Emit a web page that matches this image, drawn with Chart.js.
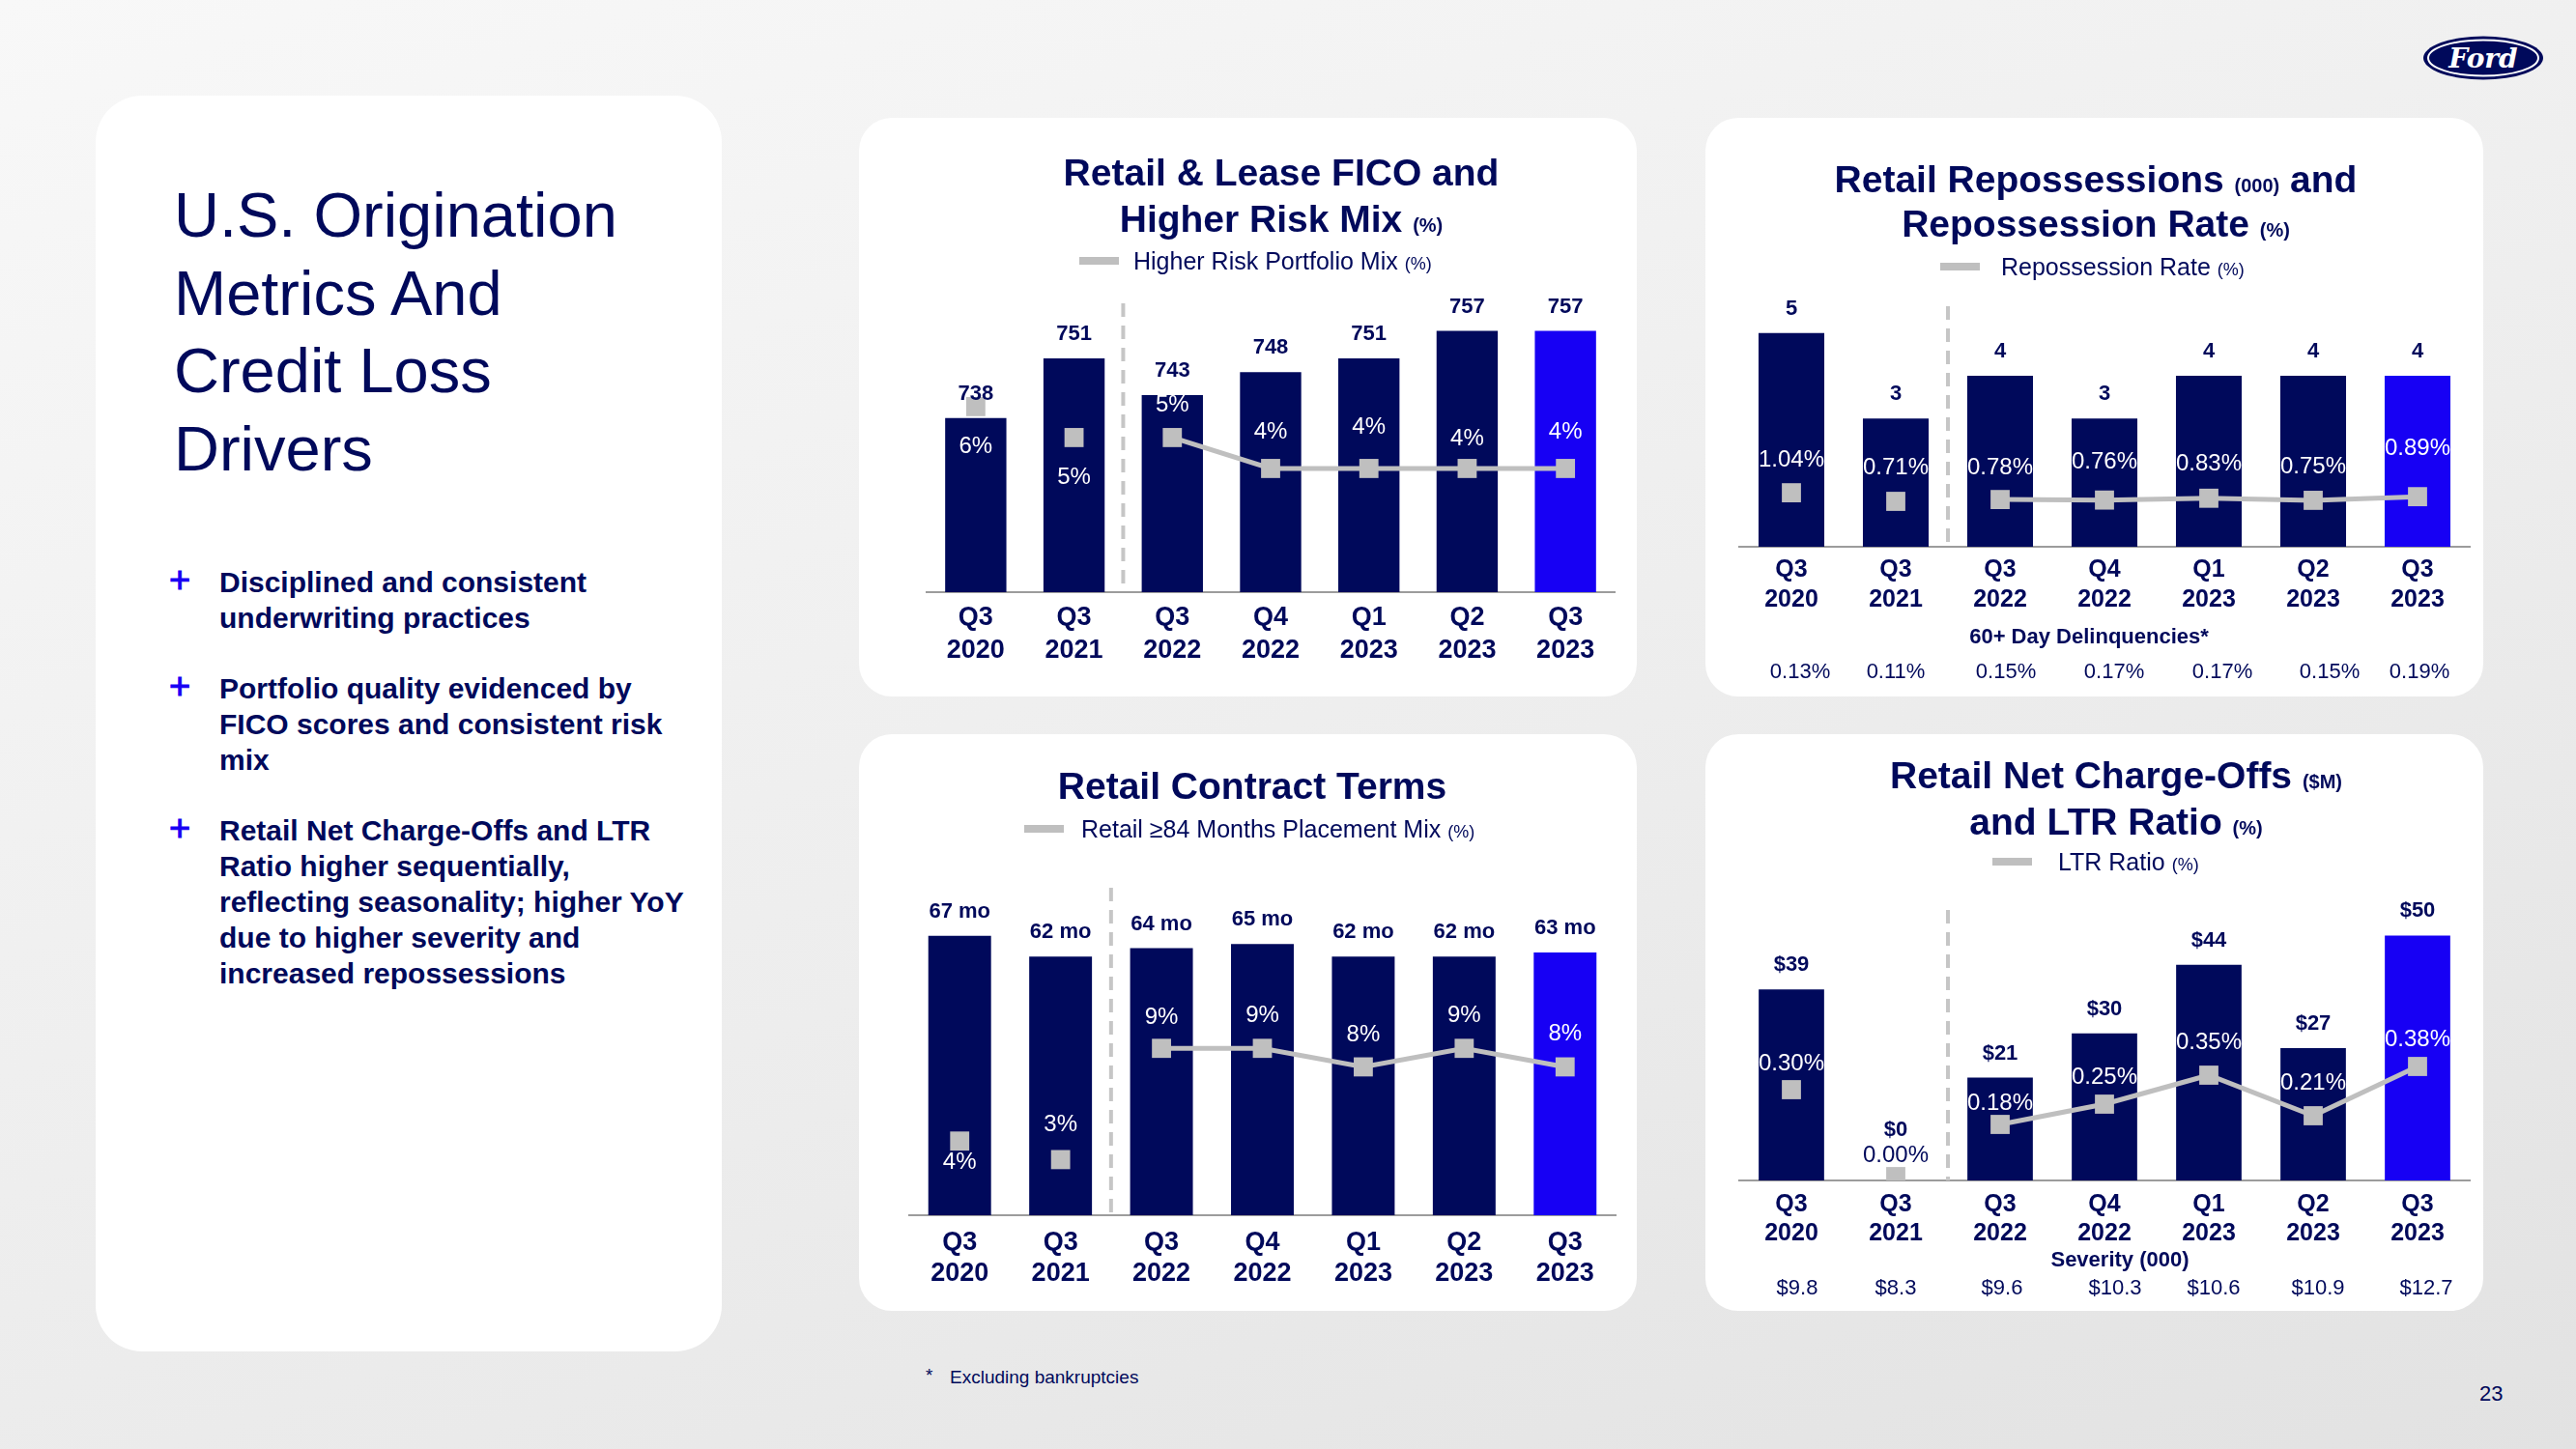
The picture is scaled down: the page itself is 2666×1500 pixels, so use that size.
<!DOCTYPE html>
<html>
<head>
<meta charset="utf-8">
<script src="https://cdn.jsdelivr.net/npm/chart.js@4.4.0/dist/chart.umd.min.js"></script>
<style>
  html, body { margin: 0; padding: 0; }
  body {
    width: 2666px; height: 1500px; position: relative; overflow: hidden;
    background: linear-gradient(160deg, #f8f8f8 0%, #ededed 55%, #e2e2e2 100%);
    font-family: 'Liberation Sans', Arial, sans-serif; color: #00095B;
  }
  .abs { position: absolute; white-space: nowrap; }
  .panel { position: absolute; left: 99px; top: 99px; width: 648px; height: 1300px; background: #fff; border-radius: 48px; }
  .card { position: absolute; background: #fff; border-radius: 34px; width: 805px; }
  .card canvas { position: absolute; left: 0; top: 0; }
  .ttl { position: absolute; transform: translateX(-50%); text-align: center; font-weight: bold; font-size: 39px; white-space: nowrap; }
  .ttl small { font-size: 20px; line-height: 0; }
  .leg { position: absolute; height: 30px; font-size: 25px; line-height: 30px; white-space: nowrap; }
  .leg i { position: absolute; left: 0; top: 11px; width: 41px; height: 8px; background: #bfbfbf; }
  .leg span { position: absolute; top: 0; }
  .leg small { font-size: 18px; line-height: 0; }
  .cap { position: absolute; transform: translate(-50%, -50%); font-weight: bold; font-size: 22px; white-space: nowrap; }
  .bul { position: absolute; left: 227px; font-weight: bold; font-size: 30px; line-height: 37px; white-space: nowrap; }
  .plus { position: absolute; left: 175px; font-size: 38px; line-height: 37px; color: #1700F4; -webkit-text-stroke: 1px #1700F4; }
</style>
</head>
<body>

<div class="panel"></div>
<div class="abs" style="left:180px; top:183px; font-size:65px; line-height:80.5px;">U.S. Origination<br>Metrics And<br>Credit Loss<br>Drivers</div>

<div class="plus" style="top:582px;">+</div>
<div class="bul" style="top:584px;">Disciplined and consistent<br>underwriting practices</div>
<div class="plus" style="top:692px;">+</div>
<div class="bul" style="top:694px;">Portfolio quality evidenced by<br>FICO scores and consistent risk<br>mix</div>
<div class="plus" style="top:839px;">+</div>
<div class="bul" style="top:841px;">Retail Net Charge-Offs and LTR<br>Ratio higher sequentially,<br>reflecting seasonality; higher YoY<br>due to higher severity and<br>increased repossessions</div>

<div class="card" style="left:889px; top:122px; height:599px;">
  <canvas id="ficoChart" width="805" height="599"></canvas>
  <div class="ttl" style="left:437px; top:33px; line-height:48px;">Retail &amp; Lease FICO and<br>Higher Risk Mix <small>(%)</small></div>
  <div class="leg" style="left:228px; top:133px;"><i></i><span style="left:56px;">Higher Risk Portfolio Mix <small>(%)</small></span></div>
</div>

<div class="card" style="left:1765px; top:122px; height:599px;">
  <canvas id="repoChart" width="805" height="599"></canvas>
  <div class="ttl" style="left:404px; top:41px; line-height:46px;">Retail Repossessions <small>(000)</small> and<br>Repossession Rate <small>(%)</small></div>
  <div class="leg" style="left:243px; top:139px;"><i></i><span style="left:63px;">Repossession Rate <small>(%)</small></span></div>
  <div class="cap" style="left:397px; top:537px;">60+ Day Delinquencies*</div>
</div>

<div class="card" style="left:889px; top:760px; height:597px;">
  <canvas id="termChart" width="805" height="597"></canvas>
  <div class="ttl" style="left:407px; top:30px; line-height:48px;">Retail Contract Terms</div>
  <div class="leg" style="left:171px; top:83px;"><i></i><span style="left:59px;">Retail ≥84 Months Placement Mix <small>(%)</small></span></div>
</div>

<div class="card" style="left:1765px; top:760px; height:597px;">
  <canvas id="ncoChart" width="805" height="597"></canvas>
  <div class="ttl" style="left:425px; top:19px; line-height:48px;">Retail Net Charge-Offs <small>($M)</small><br>and LTR Ratio <small>(%)</small></div>
  <div class="leg" style="left:297px; top:117px;"><i></i><span style="left:68px;">LTR Ratio <small>(%)</small></span></div>
  <div class="cap" style="left:429px; top:544px;">Severity (000)</div>
</div>

<div class="abs" style="left:958px; top:1413px; font-size:19px;">*</div>
<div class="abs" style="left:983px; top:1415px; font-size:19px;">Excluding bankruptcies</div>
<div class="abs" style="left:2566px; top:1430px; font-size:22px;">23</div>

<svg class="abs" style="left:2506px; top:36px;" width="128" height="48">
  <ellipse cx="64" cy="24" rx="62" ry="22.5" fill="#00095B"/>
  <ellipse cx="64" cy="24" rx="57" ry="18.5" fill="none" stroke="#ffffff" stroke-width="2"/>
  <text x="64" y="34" text-anchor="middle" font-family="DejaVu Serif" font-style="italic" font-weight="bold" font-size="28" fill="#ffffff">Ford</text>
</svg>

<script>
const quarters = [['Q3', '2020'], ['Q3', '2021'], ['Q3', '2022'], ['Q4', '2022'], ['Q1', '2023'], ['Q2', '2023'], ['Q3', '2023']];

const ficoScores = [738, 751, 743, 748, 751, 757, 757];
const higherRiskMix = [6, 5, 5, 4, 4, 4, 4];

const repossessions = [5, 3, 4, 3, 4, 4, 4];
const repoRate = [1.04, 0.71, 0.78, 0.76, 0.83, 0.75, 0.89];
const delinquencies = [0.13, 0.11, 0.15, 0.17, 0.17, 0.15, 0.19];

const contractTerms = [67, 62, 64, 65, 62, 62, 63];
const longTermMix = [4, 3, 9, 9, 8, 9, 8];

const netChargeOffs = [39, 0, 21, 30, 44, 27, 50];
const ltrRatio = [0.30, 0.00, 0.18, 0.25, 0.35, 0.21, 0.38];
const severity = [9.8, 8.3, 9.6, 10.3, 10.6, 10.9, 12.7];

const NAVY = '#00095B';
const BRIGHT = '#1700F4';
const GRAY = '#bfbfbf';
const FONT = "'Liberation Sans', Arial, sans-serif";

Chart.defaults.font.family = FONT;

// labels above bars, on the rate line, the optional bottom row and the dashed split
// lift: how far each rate label sits above its marker (negative = below)
function labelPlugin(o) {
    return {
        id: 'labels',
        beforeDatasetsDraw(chart) {
            const { ctx, chartArea, scales } = chart;
            const x = (scales.x.getPixelForValue(1) + scales.x.getPixelForValue(2)) / 2;
            ctx.save();
            ctx.strokeStyle = '#c6c6c6';
            ctx.lineWidth = 4;
            ctx.setLineDash([14, 9]);
            ctx.beginPath();
            ctx.moveTo(x, chartArea.top);
            ctx.lineTo(x, chartArea.bottom);
            ctx.stroke();
            ctx.restore();
        },
        afterDatasetsDraw(chart) {
            const ctx = chart.ctx;
            const bars = chart.getDatasetMeta(0).data;
            const pts = chart.getDatasetMeta(1).data;
            const barVals = chart.data.datasets[0].data;
            const lineVals = chart.data.datasets[1].data;
            ctx.save();
            ctx.textAlign = 'center';
            ctx.textBaseline = 'middle';
            bars.forEach((bar, i) => {
                const p = pts[i];
                const ly = p.y - o.lift[i];
                const inBar = ly > bar.y;
                ctx.font = '24px ' + FONT;
                ctx.fillStyle = inBar ? '#ffffff' : NAVY;
                ctx.fillText(o.lineFmt(lineVals[i]), p.x, ly);

                let by = bar.y - 25;
                if (!inBar) by = Math.min(by, ly - 26);
                ctx.font = 'bold 22px ' + FONT;
                ctx.fillStyle = NAVY;
                ctx.fillText(o.barFmt(barVals[i]), bar.x, by);
            });
            if (o.row) {
                ctx.font = '22px ' + FONT;
                ctx.fillStyle = NAVY;
                bars.forEach((bar, i) => ctx.fillText(o.rowFmt(o.row[i]), bar.x + (o.rowShift ? o.rowShift[i] : 0), o.rowY));
            }
            ctx.restore();
        }
    };
}

function makeChart(id, c) {
    const ctx = document.getElementById(id).getContext('2d');
    return new Chart(ctx, {
        type: 'bar',
        data: {
            labels: quarters,
            datasets: [{
                type: 'bar',
                data: c.bars,
                backgroundColor: c.bars.map((v, i) => i === c.bars.length - 1 ? BRIGHT : NAVY),
                barPercentage: c.barPct,
                categoryPercentage: 1,
                yAxisID: 'y',
                order: 2
            }, {
                type: 'line',
                data: c.line,
                yAxisID: 'y2',
                borderColor: GRAY,
                borderWidth: 5,
                pointStyle: 'rect',
                pointRadius: 14,
                pointBackgroundColor: GRAY,
                pointBorderWidth: 0,
                segment: {
                    borderColor: s => s.p0DataIndex < 2 ? 'rgba(0,0,0,0)' : GRAY
                },
                order: 1
            }]
        },
        options: {
            responsive: false,
            animation: false,
            devicePixelRatio: 1,
            layout: { padding: c.pad },
            plugins: { legend: { display: false }, tooltip: { enabled: false } },
            scales: {
                x: {
                    grid: { display: false, drawTicks: false },
                    border: { display: true, color: '#9c9c9c', width: 2 },
                    ticks: {
                        color: NAVY,
                        font: { size: c.tickSize, weight: 'bold', lineHeight: c.tickLH },
                        padding: c.tickPad,
                        maxRotation: 0,
                        autoSkip: false
                    },
                    afterFit: s => { s.height = 80; }
                },
                y: { display: false, min: c.yMin, max: c.yMax },
                y2: { display: false, position: 'right', min: c.y2Min, max: c.y2Max }
            }
        },
        plugins: [labelPlugin(c.labels)]
    });
}

makeChart('ficoChart', {
    bars: ficoScores, line: higherRiskMix, barPct: 0.623,
    pad: { left: 70, right: 23, top: 192, bottom: 28 },
    yMin: 700, yMax: 763, y2Min: 0, y2Max: 9.34,
    tickSize: 27, tickLH: 1.26, tickPad: 10,
    labels: { barFmt: v => String(v), lineFmt: v => v + '%', lift: [-41, -41, 34, 38, 43, 31, 38] }
});

makeChart('repoChart', {
    bars: repossessions, line: repoRate, barPct: 0.63,
    pad: { left: 35, right: 14, top: 195, bottom: 75 },
    yMin: 0, yMax: 5.63, y2Min: -1.03, y2Max: 8.19,
    tickSize: 25, tickLH: 1.22, tickPad: 9,
    labels: {
        barFmt: v => String(v), lineFmt: v => v.toFixed(2) + '%', lift: [34, 35, 33, 39, 35, 35, 50],
        row: delinquencies, rowFmt: v => v.toFixed(2) + '%', rowY: 574, rowShift: [9, 0, 6, 10, 14, 17, 2]
    }
});

makeChart('termChart', {
    bars: contractTerms, line: longTermMix, barPct: 0.622,
    pad: { left: 52, right: 22, top: 159, bottom: 19 },
    yMin: 0, yMax: 78.5, y2Min: 0, y2Max: 17.66,
    tickSize: 27, tickLH: 1.2, tickPad: 12,
    labels: { barFmt: v => v + ' mo', lineFmt: v => v + '%', lift: [-22, 36, 32, 34, 33, 34, 34] }
});

makeChart('ncoChart', {
    bars: netChargeOffs, line: ltrRatio, barPct: 0.627,
    pad: { left: 35, right: 0, top: 182, bottom: 55 },
    yMin: 0, yMax: 55.2, y2Min: -0.0133, y2Max: 0.92,
    tickSize: 25, tickLH: 1.2, tickPad: 10,
    labels: {
        barFmt: v => '$' + v, lineFmt: v => v.toFixed(2) + '%', lift: [27, 22, 22, 28, 34, 34, 28],
        row: severity, rowFmt: v => '$' + v.toFixed(1), rowY: 574, rowShift: [6, 0, 2, 11, 5, 5, 9]
    }
});
</script>
</body>
</html>
